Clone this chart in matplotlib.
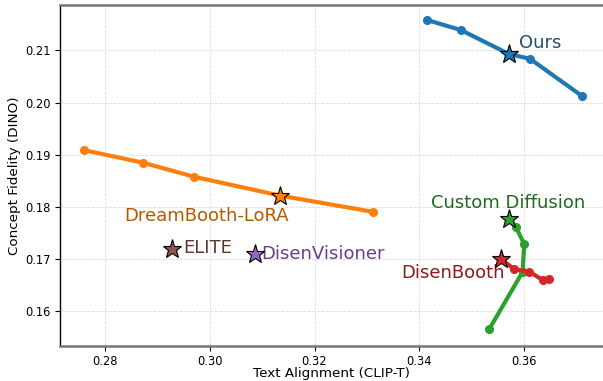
import matplotlib
matplotlib.use('Agg')
import matplotlib.pyplot as plt

# CLIP-T (x) / DINO (y)
ours_x = [0.3416, 0.3480, 0.3572, 0.3612, 0.3711]
ours_y = [0.2158, 0.2139, 0.2093, 0.2084, 0.2013]
ours_star = (0.3572, 0.2093)

lora_x = [0.2759, 0.2872, 0.2970, 0.3134, 0.3311]
lora_y = [0.1909, 0.1885, 0.1858, 0.1822, 0.1791]
lora_star = (0.3134, 0.1822)

custom_x = [0.3571, 0.3585, 0.3601, 0.3598, 0.3534]
custom_y = [0.1777, 0.1762, 0.1729, 0.1676, 0.1566]
custom_star = (0.3571, 0.1777)

disenbooth_x = [0.3557, 0.3582, 0.3611, 0.3637, 0.3648]
disenbooth_y = [0.1700, 0.1681, 0.1676, 0.1660, 0.1662]
disenbooth_star = (0.3557, 0.1700)

elite_star = (0.2927, 0.1719)
visioner_star = (0.3086, 0.1710)

fig = plt.figure(figsize=(6.03, 3.81), dpi=100)
ax = fig.add_axes([60/603, 1-345.7/381, 1-60/603, (345.7-5)/381])

ax.grid(True, linestyle='--', color='#dddddd', linewidth=0.6)
ax.set_axisbelow(True)

def series(xs, ys, star, col):
    ax.plot(xs, ys, '-o', color=col, lw=3, markersize=5.5, zorder=3)
    ax.plot(star[0], star[1], marker='*', markersize=14, color=col,
            markeredgecolor='black', markeredgewidth=0.8, zorder=5, linestyle='none')

series(ours_x, ours_y, ours_star, 'tab:blue')
series(lora_x, lora_y, lora_star, 'tab:orange')
series(custom_x, custom_y, custom_star, 'tab:green')
series(disenbooth_x, disenbooth_y, disenbooth_star, 'tab:red')
ax.plot(*elite_star, marker='*', markersize=14, color='tab:brown',
        markeredgecolor='black', markeredgewidth=0.8, zorder=5)
ax.plot(*visioner_star, marker='*', markersize=14, color='tab:purple',
        markeredgecolor='black', markeredgewidth=0.8, zorder=5)

fs = 13
ax.text(0.3591, 0.2114, 'Ours', color='#1f4e79', fontsize=fs, va='center')
ax.text(0.3422, 0.1808, 'Custom Diffusion', color='#1e6b1e', fontsize=fs, va='center')
ax.text(0.3366, 0.1673, 'DisenBooth', color='#8b1a1a', fontsize=fs, va='center')
ax.text(0.2836, 0.1783, 'DreamBooth-LoRA', color='#b35a00', fontsize=fs, va='center')
ax.text(0.2950, 0.1722, 'ELITE', color='#5a3a2e', fontsize=fs, va='center')
ax.text(0.3099, 0.1710, 'DisenVisioner', color='#6a3d8f', fontsize=fs, va='center')

ax.set_xlim(0.27134, 0.37516)
ax.set_ylim(0.15345, 0.2187)
ax.set_xticks([0.28, 0.30, 0.32, 0.34, 0.36])
ax.set_yticks([0.16, 0.17, 0.18, 0.19, 0.20, 0.21])
ax.tick_params(labelsize=8.3)
ax.set_xlabel('Text Alignment (CLIP-T)', fontsize=9.7, labelpad=-1)
ax.set_ylabel('Concept Fidelity (DINO)', fontsize=9.7, labelpad=3)

ax.spines['right'].set_visible(False)
ax.spines['left'].set_color('black')
ax.spines['left'].set_linewidth(1.0)
for s in ['top', 'bottom']:
    ax.spines[s].set_color('#777777')
    ax.spines[s].set_linewidth(1.8)

fig.savefig('out.png', dpi=100)
